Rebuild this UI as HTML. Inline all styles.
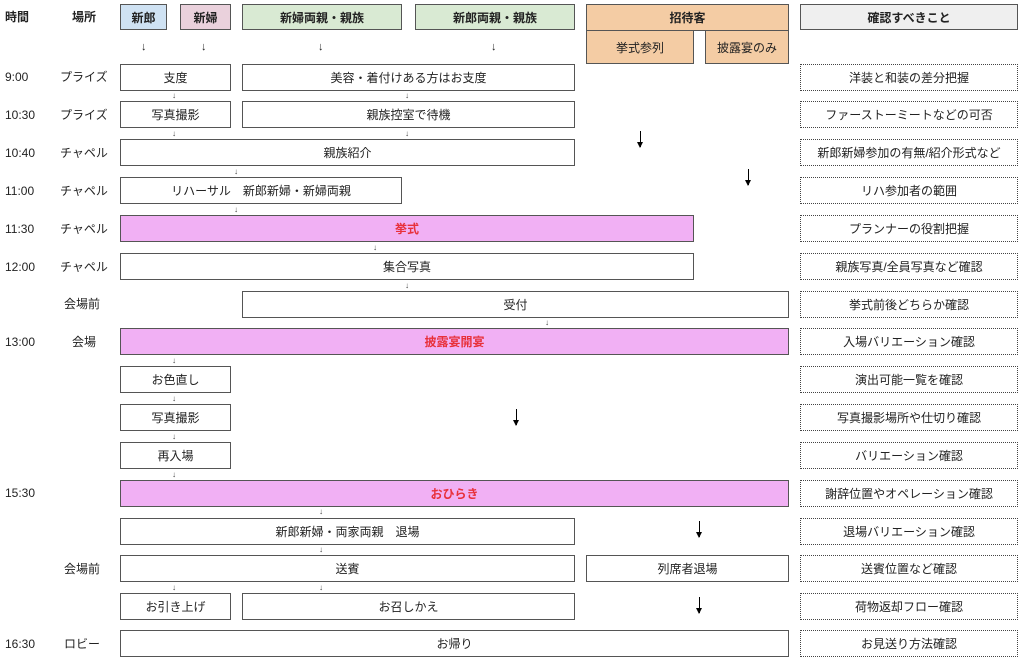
<!DOCTYPE html>
<html><head><meta charset="utf-8"><style>
body{margin:0;width:1024px;height:662px;background:#fff;position:relative;overflow:hidden;font-family:"Liberation Sans","Noto Sans CJK JP",sans-serif;color:#222}
.b{position:absolute;box-sizing:border-box;border:1px solid #555;display:flex;align-items:center;justify-content:center;font-size:12px;background:#fff}
.h{font-weight:bold;font-size:12px}
.p{background:#f1b0f4;color:#e8303a;font-weight:bold}
.d{border:1px dotted #444}
.t{position:absolute;font-size:12px;line-height:14px}
.a{position:absolute;font-size:8px;line-height:8px;color:#444}
.ah{position:absolute;font-size:11px;line-height:11px;color:#222}
.A{position:absolute;width:1px;background:#000}
.A:after{content:"";position:absolute;left:-3px;bottom:-1px;border-left:3.5px solid transparent;border-right:3.5px solid transparent;border-top:6px solid #000}
</style></head><body>
<div class="t h" style="left:5px;top:10px">時間</div>
<div class="t h" style="left:72px;top:10px">場所</div>
<div class="b h" style="left:120px;top:4px;width:47px;height:26px;background:#cfe2f3">新郎</div>
<div class="b h" style="left:180px;top:4px;width:51px;height:26px;background:#ead1dc">新婦</div>
<div class="b h" style="left:242px;top:4px;width:160px;height:26px;background:#d9ead3">新婦両親・親族</div>
<div class="b h" style="left:415px;top:4px;width:160px;height:26px;background:#d9ead3">新郎両親・親族</div>
<div class="b h" style="left:586px;top:4px;width:203px;height:27px;background:#f4cca4">招待客</div>
<div class="b" style="left:586px;top:30px;width:108px;height:34px;background:#f4cca4">挙式参列</div>
<div class="b" style="left:705px;top:30px;width:84px;height:34px;background:#f4cca4">披露宴のみ</div>
<div class="b h" style="left:800px;top:4px;width:218px;height:26px;background:#efefef">確認すべきこと</div>
<div class="ah" style="left:141px;top:42px">↓</div><div class="ah" style="left:201px;top:42px">↓</div>
<div class="ah" style="left:318px;top:42px">↓</div><div class="ah" style="left:491px;top:42px">↓</div>

<div class="t" style="left:5px;top:70px">9:00</div><div class="t" style="left:60px;top:70px">プライズ</div>
<div class="b" style="left:120px;top:64px;width:111px;height:27px">支度</div>
<div class="b" style="left:242px;top:64px;width:333px;height:27px">美容・着付けある方はお支度</div>

<div class="t" style="left:5px;top:108px">10:30</div><div class="t" style="left:60px;top:108px">プライズ</div>
<div class="b" style="left:120px;top:101px;width:111px;height:27px">写真撮影</div>
<div class="b" style="left:242px;top:101px;width:333px;height:27px">親族控室で待機</div>

<div class="t" style="left:5px;top:146px">10:40</div><div class="t" style="left:60px;top:146px">チャペル</div>
<div class="b" style="left:120px;top:139px;width:455px;height:27px">親族紹介</div>

<div class="t" style="left:5px;top:184px">11:00</div><div class="t" style="left:60px;top:184px">チャペル</div>
<div class="b" style="left:120px;top:177px;width:282px;height:27px">リハーサル　新郎新婦・新婦両親</div>

<div class="t" style="left:5px;top:222px">11:30</div><div class="t" style="left:60px;top:222px">チャペル</div>
<div class="b p" style="left:120px;top:215px;width:574px;height:27px">挙式</div>

<div class="t" style="left:5px;top:260px">12:00</div><div class="t" style="left:60px;top:260px">チャペル</div>
<div class="b" style="left:120px;top:253px;width:574px;height:27px">集合写真</div>

<div class="t" style="left:64px;top:297px">会場前</div>
<div class="b" style="left:242px;top:291px;width:547px;height:27px">受付</div>

<div class="t" style="left:5px;top:335px">13:00</div><div class="t" style="left:72px;top:335px">会場</div>
<div class="b p" style="left:120px;top:328px;width:669px;height:27px">披露宴開宴</div>

<div class="b" style="left:120px;top:366px;width:111px;height:27px">お色直し</div>
<div class="b" style="left:120px;top:404px;width:111px;height:27px">写真撮影</div>
<div class="b" style="left:120px;top:442px;width:111px;height:27px">再入場</div>

<div class="t" style="left:5px;top:486px">15:30</div>
<div class="b p" style="left:120px;top:480px;width:669px;height:27px">おひらき</div>

<div class="b" style="left:120px;top:518px;width:455px;height:27px">新郎新婦・両家両親　退場</div>

<div class="t" style="left:64px;top:562px">会場前</div>
<div class="b" style="left:120px;top:555px;width:455px;height:27px">送賓</div>
<div class="b" style="left:586px;top:555px;width:203px;height:27px">列席者退場</div>

<div class="b" style="left:120px;top:593px;width:111px;height:27px">お引き上げ</div>
<div class="b" style="left:242px;top:593px;width:333px;height:27px">お召しかえ</div>

<div class="t" style="left:5px;top:637px">16:30</div><div class="t" style="left:64px;top:637px">ロビー</div>
<div class="b" style="left:120px;top:630px;width:669px;height:27px">お帰り</div>

<div class="a" style="left:172px;top:92px">↓</div><div class="a" style="left:405px;top:92px">↓</div>
<div class="a" style="left:172px;top:130px">↓</div><div class="a" style="left:405px;top:130px">↓</div>
<div class="a" style="left:234px;top:168px">↓</div>
<div class="a" style="left:234px;top:206px">↓</div>
<div class="a" style="left:373px;top:244px">↓</div>
<div class="a" style="left:405px;top:282px">↓</div>
<div class="a" style="left:545px;top:319px">↓</div>
<div class="a" style="left:172px;top:357px">↓</div>
<div class="a" style="left:172px;top:395px">↓</div>
<div class="a" style="left:172px;top:433px">↓</div>
<div class="a" style="left:172px;top:471px">↓</div>
<div class="a" style="left:319px;top:508px">↓</div>
<div class="a" style="left:319px;top:546px">↓</div>
<div class="a" style="left:172px;top:584px">↓</div><div class="a" style="left:319px;top:584px">↓</div>

<div class="A" style="left:640px;top:131px;height:16px"></div>
<div class="A" style="left:748px;top:169px;height:16px"></div>
<div class="A" style="left:516px;top:409px;height:16px"></div>
<div class="A" style="left:699px;top:521px;height:16px"></div>
<div class="A" style="left:699px;top:597px;height:16px"></div>

<div class="b d" style="left:800px;top:64px;width:218px;height:27px">洋装と和装の差分把握</div>
<div class="b d" style="left:800px;top:101px;width:218px;height:27px">ファーストーミートなどの可否</div>
<div class="b d" style="left:800px;top:139px;width:218px;height:27px">新郎新婦参加の有無/紹介形式など</div>
<div class="b d" style="left:800px;top:177px;width:218px;height:27px">リハ参加者の範囲</div>
<div class="b d" style="left:800px;top:215px;width:218px;height:27px">プランナーの役割把握</div>
<div class="b d" style="left:800px;top:253px;width:218px;height:27px">親族写真/全員写真など確認</div>
<div class="b d" style="left:800px;top:291px;width:218px;height:27px">挙式前後どちらか確認</div>
<div class="b d" style="left:800px;top:328px;width:218px;height:27px">入場バリエーション確認</div>
<div class="b d" style="left:800px;top:366px;width:218px;height:27px">演出可能一覧を確認</div>
<div class="b d" style="left:800px;top:404px;width:218px;height:27px">写真撮影場所や仕切り確認</div>
<div class="b d" style="left:800px;top:442px;width:218px;height:27px">バリエーション確認</div>
<div class="b d" style="left:800px;top:480px;width:218px;height:27px">謝辞位置やオペレーション確認</div>
<div class="b d" style="left:800px;top:518px;width:218px;height:27px">退場バリエーション確認</div>
<div class="b d" style="left:800px;top:555px;width:218px;height:27px">送賓位置など確認</div>
<div class="b d" style="left:800px;top:593px;width:218px;height:27px">荷物返却フロー確認</div>
<div class="b d" style="left:800px;top:630px;width:218px;height:27px">お見送り方法確認</div>
</body></html>
